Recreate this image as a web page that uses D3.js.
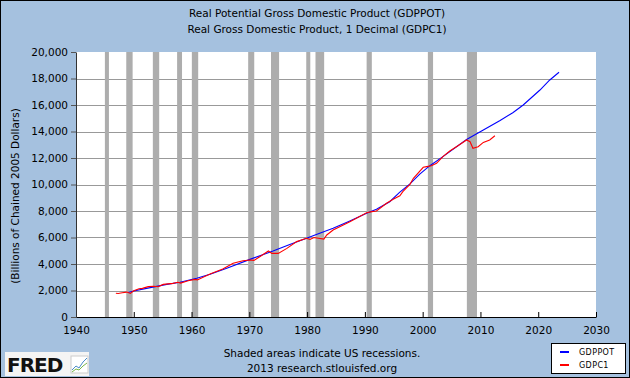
<!DOCTYPE html>
<html><head><meta charset="utf-8">
<script src="https://cdn.jsdelivr.net/npm/d3@7"></script>
<style>body{margin:0;padding:0;overflow:hidden;background:#fff}svg{display:block}</style>
</head><body>
<script>
// ---- data ----
const titleLines = ["Real Potential Gross Domestic Product (GDPPOT)", "Real Gross Domestic Product, 1 Decimal (GDPC1)"];
const yLabel = "(Billions of Chained 2005 Dollars)";
const xTicks = [1940,1950,1960,1970,1980,1990,2000,2010,2020,2030];
const yTicks = [0,2000,4000,6000,8000,10000,12000,14000,16000,18000,20000];
const recessionStart = [1945.0,1948.7,1953.3,1957.5,1960.05,1969.8,1973.75,1979.85,1981.45,1990.3,2000.9,2007.65];
const recessionEnd   = [1945.7,1949.8,1954.4,1958.35,1961.15,1970.85,1975.15,1980.55,1982.95,1991.2,2001.8,2009.4];

const potDates  = [1949.0,1950.0,1952.2,1955.7,1958.0,1960.9,1963.2,1966.1,1970.1,1974.1,1977.0,1979.9,1981.6,1984.5,1987.4,1990.3,1992.0,1994.3,1996.0,1997.8,1999.5,2001.25,2003.5,2007.6,2010.5,2013.4,2015.6,2017.4,2020.3,2022.0,2023.6];
const potValues = [1850,1960,2160,2460,2620,2920,3220,3680,4350,4980,5480,5940,6230,6690,7250,7830,8130,8700,9400,10050,10790,11420,12100,13400,14110,14830,15420,16000,17130,17890,18470];

const gdpDates  = [1946.9,1947.3,1948.0,1948.8,1949.4,1950.0,1950.9,1951.5,1952.5,1953.5,1954.2,1955.1,1956.8,1957.6,1958.1,1959.4,1960.6,1961.0,1963.2,1965.4,1967.2,1968.9,1970.1,1970.8,1971.8,1973.3,1973.9,1975.0,1976.5,1978.2,1979.9,1980.5,1981.2,1982.9,1983.4,1984.5,1987.4,1990.3,1991.2,1992.0,1993.75,1994.9,1996.05,1996.6,1997.8,1998.4,2000.1,2000.7,2001.5,2002.4,2003.5,2004.7,2006.1,2007.6,2008.2,2008.7,2009.6,2010.5,2011.6,2012.5];
const gdpValues = [1790,1770,1830,1880,1780,1980,2130,2160,2290,2320,2280,2460,2540,2620,2560,2740,2840,2800,3240,3620,4050,4250,4300,4270,4550,4980,4800,4800,5180,5690,5940,5850,6000,5880,6190,6570,7190,7870,7950,8000,8580,8880,9150,9480,10010,10470,11300,11350,11420,11600,12100,12530,12930,13360,13230,12730,12850,13180,13360,13680];

const seriesNames = ["GDPPOT","GDPC1"];
const seriesColors = ["#0000ff","#ff0000"];

// ---- drawing ----
const W = 630, H = 378;
const FONT = "'DejaVu Sans', Verdana, sans-serif";
const svg = d3.select("body").append("svg").attr("width", W).attr("height", H);
svg.append("rect").attr("x",0.5).attr("y",0.5).attr("width",W-1).attr("height",H-1)
  .attr("fill","#a5c1df").attr("stroke","#000").attr("stroke-width",1);

const x = d3.scaleLinear().domain([1940,2030]).range([76,596]);
const y = d3.scaleLinear().domain([0,20000]).range([317,52]);

// plot area
svg.append("rect").attr("x",x(1940)).attr("y",y(20000)).attr("width",x(2030)-x(1940)).attr("height",y(0)-y(20000)).attr("fill","#fff");

// gridlines
svg.append("g").selectAll("line").data(yTicks.filter(d=>d>0 && d<20000)).join("line")
  .attr("x1",x(1940)).attr("x2",x(2030)).attr("y1",d=>Math.round(y(d))+0.5).attr("y2",d=>Math.round(y(d))+0.5)
  .attr("stroke","#999").attr("stroke-width",1);

// recessions
svg.append("g").selectAll("rect").data(recessionStart.map((s,i)=>[s,recessionEnd[i]])).join("rect")
  .attr("x",d=>x(d[0])).attr("width",d=>x(d[1])-x(d[0])).attr("y",y(20000)).attr("height",y(0)-y(20000))
  .attr("fill","#adadad");

// axes
const xAxis = d3.axisBottom(x).tickValues(xTicks).tickFormat(d3.format("d")).tickSizeInner(-5).tickSizeOuter(0).tickPadding(10);
const gx = svg.append("g").attr("transform",`translate(0,${y(0)})`).call(xAxis);
gx.selectAll("text").attr("font-family",FONT).attr("font-size","10.5px").attr("fill","#000");
gx.selectAll("line,path").attr("stroke","#000");

const yAxis = d3.axisLeft(y).tickValues(yTicks).tickFormat(d3.format(",")).tickSizeInner(5).tickSizeOuter(0).tickPadding(3);
const gy = svg.append("g").attr("transform",`translate(${x(1940)},0)`).call(yAxis);
gy.selectAll("text").attr("font-family",FONT).attr("font-size","10.5px").attr("fill","#000");
gy.selectAll("line").attr("stroke","#555");
gy.select("path").attr("stroke","#333");

// lines
const line = d3.line().x(d=>x(d[0])).y(d=>y(d[1]));
svg.append("path").datum(potDates.map((d,i)=>[d,potValues[i]])).attr("d",line)
  .attr("fill","none").attr("stroke",seriesColors[0]).attr("stroke-width",1.1);
svg.append("path").datum(gdpDates.map((d,i)=>[d,gdpValues[i]])).attr("d",line)
  .attr("fill","none").attr("stroke",seriesColors[1]).attr("stroke-width",1.1);

// titles
svg.append("g").selectAll("text").data(titleLines).join("text")
  .attr("x",317).attr("y",(d,i)=>17+i*16).attr("text-anchor","middle")
  .attr("font-family",FONT).attr("font-size","10.5px").attr("fill","#000").text(d=>d);

svg.append("text").attr("transform","translate(19,196) rotate(-90)").attr("text-anchor","middle")
  .attr("font-family",FONT).attr("font-size","10.5px").attr("fill","#000").text(yLabel);

// footer
svg.append("text").attr("x",322).attr("y",357).attr("text-anchor","middle")
  .attr("font-family",FONT).attr("font-size","10.5px").attr("fill","#000").text("Shaded areas indicate US recessions.");
svg.append("text").attr("x",322).attr("y",372).attr("text-anchor","middle")
  .attr("font-family",FONT).attr("font-size","10.5px").attr("fill","#000").text("2013 research.stlouisfed.org");

// legend
const lg = svg.append("g");
lg.append("rect").attr("x",551.5).attr("y",343.5).attr("width",74).attr("height",30).attr("fill","#fff").attr("stroke","#000");
seriesNames.forEach((n,i)=>{
  const yy = 352 + i*13;
  lg.append("line").attr("x1",560).attr("x2",569).attr("y1",yy).attr("y2",yy).attr("stroke",seriesColors[i]).attr("stroke-width",2);
  lg.append("text").attr("x",579).attr("y",yy+3).attr("font-family",FONT).attr("font-size","8px").attr("letter-spacing","0.4px").attr("fill","#000").text(n);
});

// FRED logo
const logo = svg.append("g");
logo.append("rect").attr("x",5).attr("y",352).attr("width",84).attr("height",24).attr("fill","#f4f4f4");
logo.append("text").attr("x",7).attr("y",372).attr("font-family","'DejaVu Sans', sans-serif").attr("font-weight","bold")
  .attr("font-size","20px").attr("letter-spacing","-1px").attr("fill","#111").text("FRED");
logo.append("rect").attr("x",71).attr("y",356).attr("width",17).attr("height",17).attr("fill","#fff").attr("stroke","#ccc");
logo.append("path").attr("d","M72,370 L76,366 L79,368 L83,362 L87,358").attr("fill","none").attr("stroke","#4a8bc8").attr("stroke-width",1);
logo.append("path").attr("d","M72,372 L76,369 L79,370 L83,366 L87,363").attr("fill","none").attr("stroke","#7ab648").attr("stroke-width",1);
</script>
</body></html>
